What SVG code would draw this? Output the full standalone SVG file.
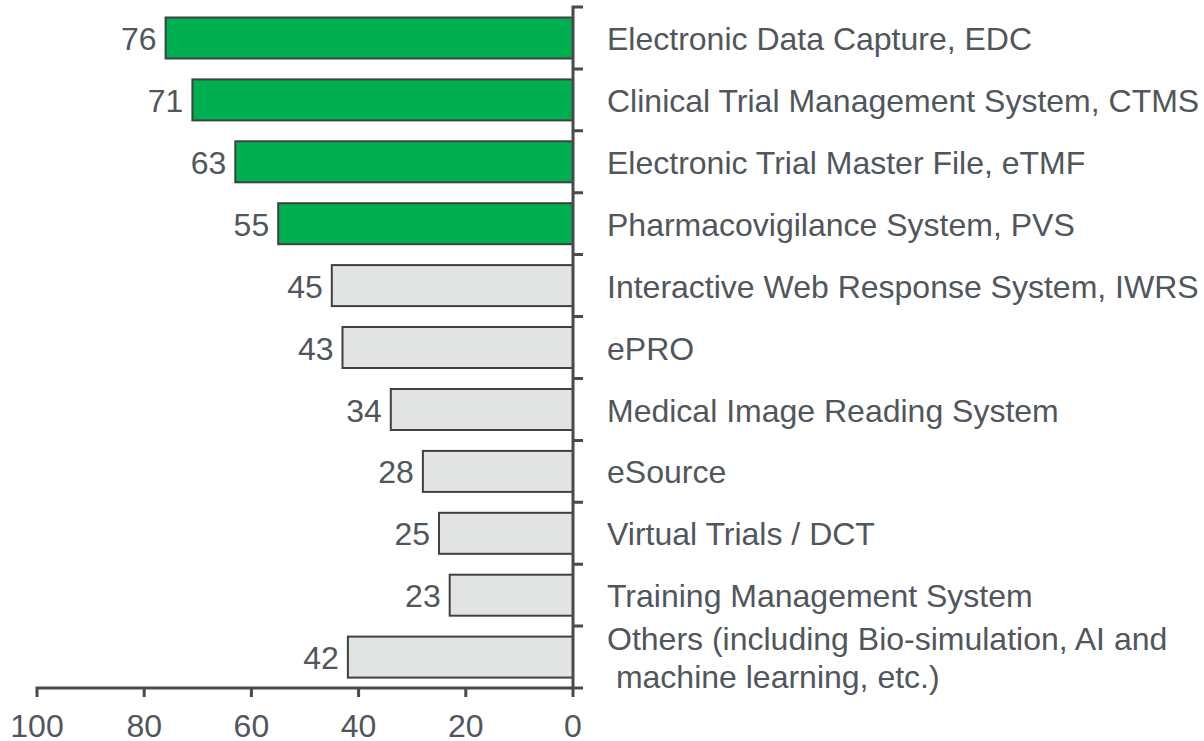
<svg xmlns="http://www.w3.org/2000/svg" width="1204" height="741" viewBox="0 0 1204 741">
<style>
.t{font-family:"Liberation Sans",Arial,sans-serif;font-size:32px;fill:#50565c}
.v{text-anchor:end}
.m{text-anchor:middle}
.g{fill:#00b050;stroke:#404040;stroke-width:2}
.q{fill:#e1e4e3;stroke:#404040;stroke-width:2}
.ax{stroke:#4a4a4a;stroke-width:3;fill:none}
</style>
<rect width="1204" height="741" fill="#ffffff"/>
<g id="bars">
<g id="edc"><rect class="g" x="165.6" y="17.5" width="407.4" height="41"/><text class="t v" x="156.6" y="50">76</text><text class="t" x="607" y="50">Electronic Data Capture, EDC</text></g>
<g id="ctms"><rect class="g" x="192.4" y="79.4" width="380.6" height="41"/><text class="t v" x="183.4" y="111.9">71</text><text class="t" x="607" y="111.9">Clinical Trial Management System, CTMS</text></g>
<g id="etmf"><rect class="g" x="235.3" y="141.3" width="337.7" height="41"/><text class="t v" x="226.3" y="173.8">63</text><text class="t" x="607" y="173.8">Electronic Trial Master File, eTMF</text></g>
<g id="pvs"><rect class="g" x="278.2" y="203.2" width="294.8" height="41"/><text class="t v" x="269.2" y="235.7">55</text><text class="t" x="607" y="235.7">Pharmacovigilance System, PVS</text></g>
<g id="iwrs"><rect class="q" x="331.8" y="265.1" width="241.2" height="41"/><text class="t v" x="322.8" y="297.6">45</text><text class="t" x="607" y="297.6">Interactive Web Response System, IWRS</text></g>
<g id="epro"><rect class="q" x="342.5" y="327" width="230.5" height="41"/><text class="t v" x="333.5" y="359.5">43</text><text class="t" x="607" y="359.5">ePRO</text></g>
<g id="mirs"><rect class="q" x="390.8" y="389" width="182.2" height="41"/><text class="t v" x="381.8" y="421.5">34</text><text class="t" x="607" y="421.5">Medical Image Reading System</text></g>
<g id="esource"><rect class="q" x="422.9" y="450.9" width="150.1" height="41"/><text class="t v" x="413.9" y="483.4">28</text><text class="t" x="607" y="483.4">eSource</text></g>
<g id="dct"><rect class="q" x="439" y="512.8" width="134" height="41"/><text class="t v" x="430" y="545.3">25</text><text class="t" x="607" y="545.3">Virtual Trials / DCT</text></g>
<g id="tms"><rect class="q" x="449.7" y="574.7" width="123.3" height="41"/><text class="t v" x="440.7" y="607.2">23</text><text class="t" x="607" y="607.2">Training Management System</text></g>
<g id="others"><rect class="q" x="347.9" y="636.6" width="225.1" height="41"/><text class="t v" x="338.9" y="669">42</text><text class="t" x="607" y="650">Others (including Bio-simulation, AI and</text><text class="t" x="607" y="688" xml:space="preserve"> machine learning, etc.)</text></g>
</g>
<g id="axes">
<path class="ax" d="M583 7H573V697M573 68.9H583M573 130.8H583M573 192.7H583M573 254.6H583M573 316.5H583M573 378.5H583M573 440.4H583M573 502.3H583M573 564.2H583M573 626.1H583"/>
<path class="ax" d="M37 697V688H583M144.2 688V697M251.4 688V697M358.6 688V697M465.8 688V697"/>
<g id="xlabels">
<text class="t m" x="37" y="737">100</text>
<text class="t m" x="144.2" y="737">80</text>
<text class="t m" x="251.4" y="737">60</text>
<text class="t m" x="358.6" y="737">40</text>
<text class="t m" x="465.8" y="737">20</text>
<text class="t m" x="573" y="737">0</text>
</g>
</g>
</svg>
